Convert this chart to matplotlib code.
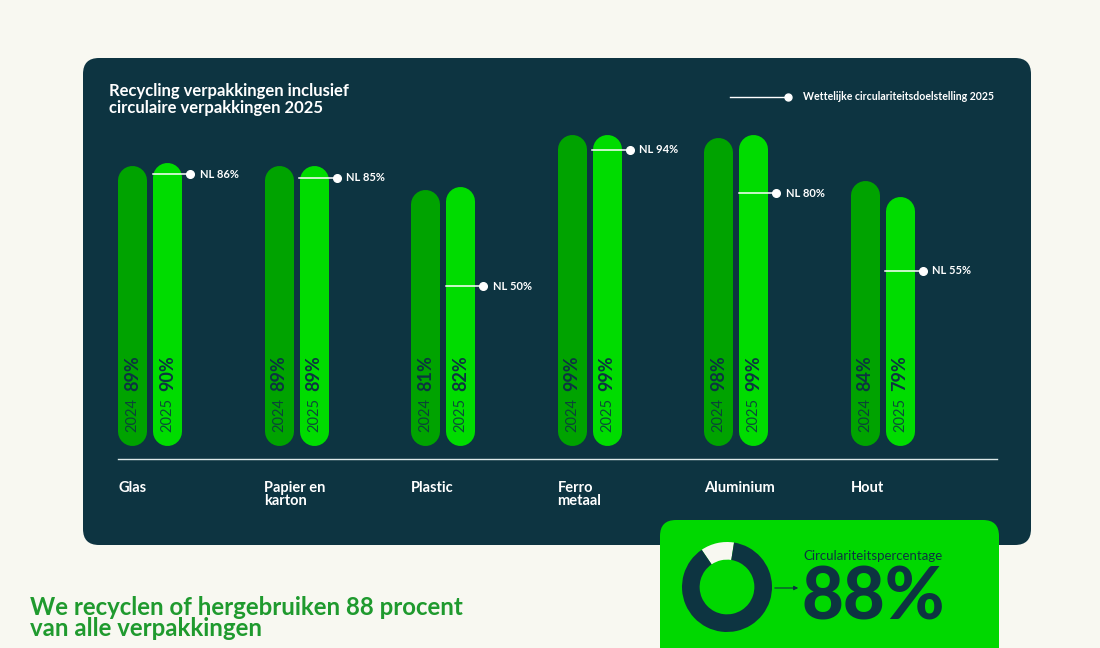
import matplotlib.pyplot as plt
from matplotlib.patches import FancyBboxPatch, FancyArrowPatch
from matplotlib.lines import Line2D
from matplotlib.transforms import IdentityTransform, blended_transform_factory

plt.rcParams['font.family'] = ['Lato', 'DejaVu Sans']

# Data
categories = ['Glas', 'Papier en\nkarton', 'Plastic', 'Ferro\nmetaal', 'Aluminium', 'Hout']
values_2024 = [89, 89, 81, 99, 98, 84]
values_2025 = [90, 89, 82, 99, 99, 79]
targets_2025 = [86, 85, 50, 94, 80, 55]
years = ['2024', '2025']
circular_share = 88

DARK = '#0d3441'
CREAM = '#f8f8f1'
GREEN_24 = '#00a300'
GREEN_25 = '#00dc00'
BOX_GREEN = '#00d800'

W, H = 1100, 648
fig = plt.figure(figsize=(W / 100, H / 100), dpi=100)
fig.patch.set_facecolor(CREAM)

# dark panel behind the chart
panel = FancyBboxPatch((83, H - 545), 948, 487, boxstyle='round,pad=0,rounding_size=16',
                       transform=IdentityTransform(), fc=DARK, ec='none', zorder=-1)
fig.add_artist(panel)

ax = fig.add_axes([118 / W, 1 - 459 / H, 879 / W, 328 / H])
ax.set_facecolor('none')
for s in ['top', 'left', 'right']:
    ax.spines[s].set_visible(False)
ax.spines['bottom'].set_color('#dce8e8')
ax.spines['bottom'].set_linewidth(1)
ax.set_xticks([])
ax.set_yticks([])
ax.set_xlim(-0.218, 5.782)
ax.set_ylim(-5.8, 100)

off = 0.1195          # half distance between the two bars of a group
hw = 0.099            # half bar width (x data units)
cap = 14.5 / 3.1      # round cap radius in y data units
lw = 20.9

for i, cat in enumerate(categories):
    for xi, v, yr, col in [(i - off, values_2024[i], years[0], GREEN_24),
                           (i + off, values_2025[i], years[1], GREEN_25)]:
        ax.plot([xi, xi], [cap - 1.3, v - cap], lw=lw, color=col,
                solid_capstyle='round', zorder=2)
        yt = ax.text(xi, 3, yr, rotation=90, ha='center', va='bottom',
                     fontsize=10.5, color=DARK, alpha=0.85, zorder=3)
        ax.annotate(f'{v}%', xy=(0.5, 1), xycoords=yt, xytext=(0, 5),
                    textcoords='offset points', rotation=90, ha='center', va='bottom',
                    fontsize=13, fontweight='bold', color=DARK, zorder=3)

    t = targets_2025[i]
    x0 = i + off - hw
    x1 = i + off + 0.154
    ax.plot([x0, x1], [t, t], color='white', lw=1.1, zorder=4, clip_on=False)
    ax.plot(x1, t, 'o', ms=5.5, color='white', zorder=4, clip_on=False)
    ax.text(x1 + 0.068, t, f'NL {t}%', va='center', fontsize=8, fontweight='bold',
            color='white', zorder=4)

    trans = blended_transform_factory(ax.transData, ax.transAxes)
    ax.text(i - 0.218, -0.067, cat, transform=trans, ha='left', va='top',
            fontsize=10.5, fontweight='bold', color='white', linespacing=0.9)

# title and legend
fig.text(109 / W, 1 - 83 / H, 'Recycling verpakkingen inclusief\ncirculaire verpakkingen 2025',
         va='top', ha='left', fontsize=12, fontweight='bold', color='white', linespacing=1.1)
fig.add_artist(Line2D([730 / W, 788 / W], [1 - 97 / H] * 2, color='white', lw=1))
fig.add_artist(Line2D([788 / W], [1 - 97 / H], marker='o', ms=5, color='white'))
fig.text(803 / W, 1 - 97 / H, 'Wettelijke circulariteitsdoelstelling 2025', va='center',
         fontsize=7.6, fontweight='bold', color='white')

# green summary box
box = FancyBboxPatch((660, H - 665), 339, 145, boxstyle='round,pad=0,rounding_size=16',
                     transform=IdentityTransform(), fc=BOX_GREEN, ec='none', zorder=2)
fig.add_artist(box)

dax = fig.add_axes([682 / W, 1 - 632 / H, 90 / W, 90 / H])
dax.set_zorder(3)
dax.pie([100 - circular_share, circular_share], colors=[CREAM, DARK], startangle=81,
        radius=1.25, wedgeprops=dict(width=0.49, edgecolor='none'))
dax.set_aspect('equal')

arrow = FancyArrowPatch((772, H - 588), (801, H - 588), arrowstyle='-|>', mutation_scale=6,
                        lw=0.8, color=DARK, transform=IdentityTransform(), zorder=4)
fig.add_artist(arrow)
fig.text(803 / W, 1 - 556 / H, 'Circulariteitspercentage', va='center', fontsize=9.5,
         color=DARK, zorder=4)
fig.text(801 / W, 1 - 620 / H, f'{circular_share}%', va='baseline', fontsize=52,
         fontweight='black', color=DARK, zorder=4)

fig.text(30 / W, 1 - 596 / H, 'We recyclen of hergebruiken 88 procent\nvan alle verpakkingen',
         va='top', ha='left', fontsize=17.3, fontweight='bold', color='#1f9a2e', linespacing=0.92)

fig.savefig('out.png', dpi=100, facecolor=fig.get_facecolor())
